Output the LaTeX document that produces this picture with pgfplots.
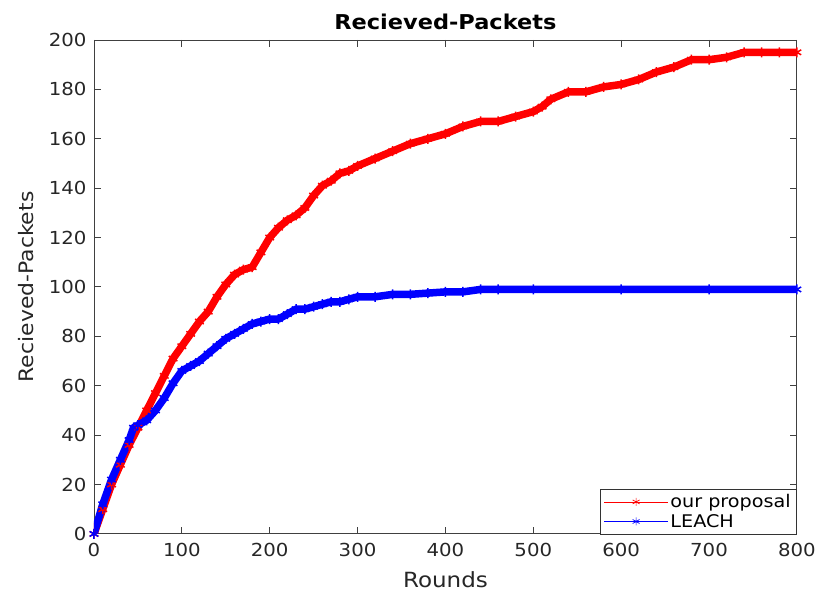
\documentclass[border=0pt]{standalone}
\usepackage{pgfplots}
\pgfplotsset{compat=1.18}
\usepackage{fontspec}
\setmainfont[FakeStretch=1.1]{DejaVu Sans}

\pgfplotstableread{
r p
0 0
10 10
20 20
30 28
40 36
50 43
60 50
70 57
80 64
90 71
100 76
110 81
120 86
130 90
140 96
150 101
160 105
170 107
180 108
190 114
200 120
210 124
220 127
230 129
240 132
250 137
260 141
270 143
280 146
290 147
300 149
320 152
340 155
360 158
380 160
400 162
420 165
440 167
460 167
480 169
500 171
510 173
520 176
540 179
560 179
580 181
600 182
620 184
640 187
660 189
680 192
700 192
720 193
740 195
760 195
780 195
800 195
}\ourproposal

\pgfplotstableread{
r p
0 0
10 12
20 22
30 30
40 38
45 43
50 44
60 46
70 50
80 55
90 61
100 66
110 68
120 70
130 73
140 76
150 79
160 81
170 83
180 85
190 86
200 87
210 87
220 89
230 91
240 91
250 92
260 93
270 94
280 94
290 95
300 96
320 96
340 97
360 97
380 97.5
400 98
420 98
440 99
460 99
500 99
600 99
700 99
800 99
}\leach

\begin{document}
\begin{tikzpicture}[x=1bp,y=1bp]
\begin{axis}[
  at={(0,0)}, anchor=south west,
  scale only axis,
  width=703bp, height=494bp,
  xmin=0, xmax=800, ymin=0, ymax=200,
  xtick={0,100,...,800}, ytick={0,20,...,200},
  tick align=inside,
  major tick length=7bp,
  axis line style={black!75, line width=0.9bp},
  every tick/.style={black!75, line width=0.9bp},
  tick label style={font=\fontsize{18}{20}\selectfont, text=black!85},
  xticklabel style={yshift=-6bp},
  yticklabel style={xshift=-4bp},
  /pgf/number format/assume math mode=true,
  title={\textbf{Recieved-Packets}},
  title style={font=\fontsize{20.5}{23}\selectfont, yshift=1bp},
  xlabel={Rounds},
  ylabel={Recieved-Packets},
  xlabel style={font=\fontsize{21}{24}\selectfont, text=black!85, yshift=-8bp},
  ylabel style={font=\fontsize{20}{23}\selectfont, text=black!85, yshift=8bp},
  legend style={at={(1,0)}, anchor=south east,
    font=\fontsize{17.5}{19}\selectfont, draw=black!80,
    inner xsep=4bp, inner ysep=3bp, row sep=1bp},
  legend cell align=left,
  legend image code/.code={%
    \draw[mark repeat=2, mark phase=2, #1] plot coordinates {(0bp,0bp) (32bp,0bp) (64bp,0bp)};},
]
\addplot[red, line width=7.5bp, line join=round, mark=asterisk, mark size=5bp, mark options={line width=1.5bp}, forget plot] table[x=r, y=p] {\ourproposal};
\addplot[blue, line width=7.5bp, line join=round, mark=asterisk, mark size=5bp, mark options={line width=1.5bp}, forget plot] table[x=r, y=p] {\leach};
\addlegendimage{draw=red, color=red, line width=0.7bp, mark=asterisk, mark size=4bp, mark options={draw=red}}
\addlegendentry{our proposal}
\addlegendimage{draw=blue, color=blue, line width=0.7bp, mark=asterisk, mark size=4bp, mark options={draw=blue}}
\addlegendentry{LEACH}
\end{axis}
\path[use as bounding box] (-94,-61) rectangle (725,534);
\end{tikzpicture}
\end{document}
